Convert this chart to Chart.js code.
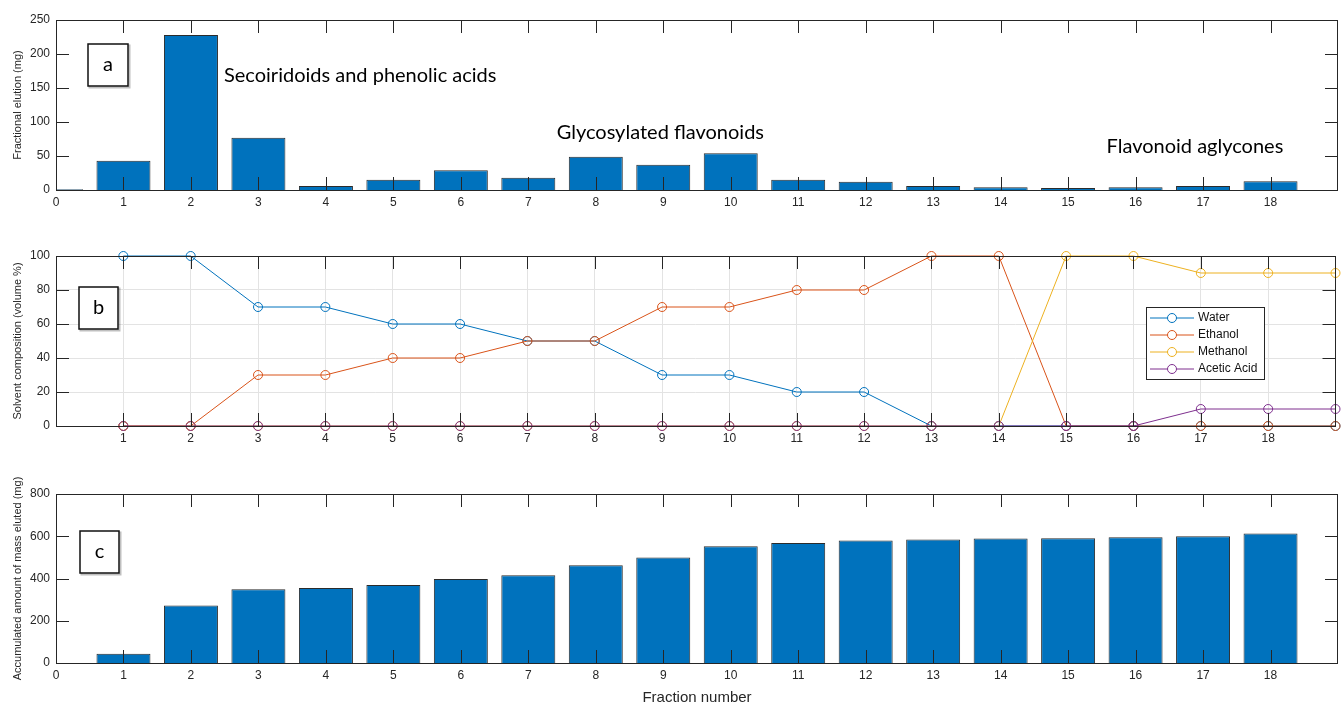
<!DOCTYPE html>
<html>
<head>
<meta charset="utf-8">
<script src="https://cdn.jsdelivr.net/npm/chart.js@4.4.1/dist/chart.umd.min.js"></script>
<style>
  html, body { margin: 0; padding: 0; background: #ffffff; }
  #wrap { position: relative; width: 1341px; height: 705px; overflow: hidden; background: #ffffff; }
  .pane { position: absolute; left: 0; width: 1341px; }
</style>
</head>
<body>
<div id="wrap">
  <div class="pane" style="top:0px;height:230px"><canvas id="chartA"></canvas></div>
  <div class="pane" style="top:230px;height:232px"><canvas id="chartB"></canvas></div>
  <div class="pane" style="top:462px;height:243px"><canvas id="chartC"></canvas></div>
</div>
<script>
// ---- Data ----
// (a) mass eluted in each fraction (mg)
const fractionsA = [0, 1, 2, 3, 4, 5, 6, 7, 8, 9, 10, 11, 12, 13, 14, 15, 16, 17, 18];
const fractionalElution = [1, 43, 228, 77, 6, 15, 29, 18, 49, 37, 54, 15, 12, 6, 4, 3, 4, 6, 13];

// (b) eluent composition per fraction (volume %)
const fractionsB = [1, 2, 3, 4, 5, 6, 7, 8, 9, 10, 11, 12, 13, 14, 15, 16, 17, 18, 19];
const water      = [100, 100, 70, 70, 60, 60, 50, 50, 30, 30, 20, 20, 0, 0, 0, 0, 0, 0, 0];
const ethanol    = [0, 0, 30, 30, 40, 40, 50, 50, 70, 70, 80, 80, 100, 100, 0, 0, 0, 0, 0];
const methanol   = [0, 0, 0, 0, 0, 0, 0, 0, 0, 0, 0, 0, 0, 0, 100, 100, 90, 90, 90];
const aceticAcid = [0, 0, 0, 0, 0, 0, 0, 0, 0, 0, 0, 0, 0, 0, 0, 0, 10, 10, 10];
const solventNames = ['Water', 'Ethanol', 'Methanol', 'Acetic Acid'];

// (c) accumulated mass eluted (mg)
const fractionsC = [1, 2, 3, 4, 5, 6, 7, 8, 9, 10, 11, 12, 13, 14, 15, 16, 17, 18];
const accumulatedMass = [44, 272, 349, 355, 369, 398, 415, 463, 500, 553, 568, 580, 585, 589, 591, 595, 600, 613];

// Tick labels
const xTicksA = [0, 1, 2, 3, 4, 5, 6, 7, 8, 9, 10, 11, 12, 13, 14, 15, 16, 17, 18];
const xTicksB = [1, 2, 3, 4, 5, 6, 7, 8, 9, 10, 11, 12, 13, 14, 15, 16, 17, 18];
const xTicksC = [0, 1, 2, 3, 4, 5, 6, 7, 8, 9, 10, 11, 12, 13, 14, 15, 16, 17, 18];
const yTicksA = [0, 50, 100, 150, 200, 250];
const yTicksB = [0, 20, 40, 60, 80, 100];
const yTicksC = [0, 200, 400, 600, 800];

// ---- Styling ----
const AXIS_COLOR = '#262626';
const BAR_COLOR = '#0072BD';
const SERIES_COLORS = ['#0072BD', '#D95319', '#EDB120', '#7E2F8E'];
const TICK_FONT = { family: 'Liberation Sans, Arial, sans-serif', size: 12 };
const YTITLE_FONT = { family: 'Liberation Sans, Arial, sans-serif', size: 11 };
const NOTE_FONT = '20px Lato, "Open Sans", sans-serif';

const zip = (xs, ys) => xs.map((x, i) => ({ x: x, y: ys[i] }));

// Box around the plot area with inward-pointing tick marks on all sides
const framePlugin = {
  id: 'frame',
  afterDatasetsDraw(chart) {
    const { ctx, chartArea: a } = chart;
    const x = chart.scales.x, y = chart.scales.y;
    const L = 13;
    ctx.save();
    ctx.strokeStyle = AXIS_COLOR;
    ctx.lineWidth = 1;
    ctx.beginPath();
    x.ticks.forEach(t => {
      const px = Math.round(x.getPixelForValue(t.value)) + 0.5;
      if (px <= a.left + 1 || px >= a.right - 1) return;
      ctx.moveTo(px, a.bottom); ctx.lineTo(px, a.bottom - L);
      ctx.moveTo(px, a.top); ctx.lineTo(px, a.top + L);
    });
    y.ticks.forEach(t => {
      const py = Math.round(y.getPixelForValue(t.value)) + 0.5;
      if (py <= a.top + 1 || py >= a.bottom - 1) return;
      ctx.moveTo(a.left, py); ctx.lineTo(a.left + L, py);
      ctx.moveTo(a.right, py); ctx.lineTo(a.right - L, py);
    });
    ctx.stroke();
    ctx.strokeRect(Math.round(a.left) + 0.5, Math.round(a.top) + 0.5,
                   Math.round(a.right - a.left) - 1, Math.round(a.bottom - a.top));
    ctx.restore();
  }
};

// Panel tag ("a", "b", "c") and free text notes placed at data coordinates
const notesPlugin = {
  id: 'notes',
  afterDraw(chart, args, opts) {
    const { ctx } = chart;
    const x = chart.scales.x, y = chart.scales.y;
    ctx.save();
    if (opts.tag) {
      const t = opts.tag;
      ctx.strokeStyle = 'rgba(0,0,0,0.25)';
      ctx.lineWidth = 2;
      ctx.strokeRect(t.left + 1.5, t.top + 1.5, t.w, t.h);
      ctx.strokeStyle = '#111';
      ctx.lineWidth = 1.5;
      ctx.fillStyle = '#fff';
      ctx.fillRect(t.left, t.top, t.w, t.h);
      ctx.strokeRect(t.left, t.top, t.w, t.h);
      ctx.fillStyle = '#000';
      ctx.font = NOTE_FONT;
      ctx.textAlign = 'center';
      ctx.textBaseline = 'middle';
      ctx.fillText(t.text, t.left + t.w / 2, t.top + t.h / 2);
    }
    (opts.notes || []).forEach(n => {
      ctx.fillStyle = '#000';
      ctx.font = NOTE_FONT;
      ctx.textAlign = 'left';
      ctx.textBaseline = 'middle';
      ctx.fillText(n.text, x.getPixelForValue(n.x), y.getPixelForValue(n.y));
    });
    ctx.restore();
  }
};

// Legend box drawn inside the plot area
const boxLegendPlugin = {
  id: 'boxLegend',
  afterDraw(chart, args, opts) {
    if (!opts.display) return;
    const { ctx } = chart;
    const ds = chart.data.datasets;
    ctx.save();
    ctx.fillStyle = '#fff';
    ctx.fillRect(opts.left, opts.top, opts.w, opts.h);
    ctx.strokeStyle = '#262626';
    ctx.lineWidth = 1;
    ctx.strokeRect(opts.left + 0.5, opts.top + 0.5, opts.w, opts.h);
    ctx.font = '12px Liberation Sans, Arial, sans-serif';
    ctx.textBaseline = 'middle';
    ctx.textAlign = 'left';
    ds.forEach((d, i) => {
      const cy = opts.top + opts.firstRow + i * opts.rowGap;
      ctx.strokeStyle = d.borderColor;
      ctx.lineWidth = 1;
      ctx.beginPath();
      ctx.moveTo(opts.left + 4, cy); ctx.lineTo(opts.left + 48, cy);
      ctx.stroke();
      ctx.beginPath();
      ctx.fillStyle = '#fff';
      ctx.arc(opts.left + 26, cy, 4.5, 0, Math.PI * 2);
      ctx.fill();
      ctx.stroke();
      ctx.fillStyle = '#111';
      ctx.fillText(d.label, opts.left + 52, cy);
    });
    ctx.restore();
  }
};

function fixedX(height) { return s => { s.height = height; }; }
function fixedY(width) { return s => { s.width = width; }; }
function setTicks(values) { return s => { s.ticks = values.map(v => ({ value: v })); }; }

function xScale(ticks, height, showGrid, title) {
  return {
    type: 'linear', min: 0, max: 19, offset: false,
    afterBuildTicks: setTicks(ticks),
    afterFit: fixedX(height),
    grid: { display: showGrid, offset: false, drawTicks: false, color: '#e3e3e3', lineWidth: 1 },
    border: { display: false },
    ticks: { color: AXIS_COLOR, font: TICK_FONT, padding: 5, maxRotation: 0, autoSkip: false,
              callback: v => String(v) },
    title: title ? { display: true, text: title, color: AXIS_COLOR,
                     font: { family: 'Liberation Sans, Arial, sans-serif', size: 15, lineHeight: 1.0 },
                     padding: { top: 0, bottom: 0 } } : { display: false }
  };
}

function yScale(ticks, max, showGrid, title) {
  return {
    type: 'linear', min: 0, max: max,
    afterBuildTicks: setTicks(ticks),
    afterFit: fixedY(56),
    grid: { display: showGrid, drawTicks: false, color: '#e3e3e3', lineWidth: 1 },
    border: { display: false },
    ticks: { color: AXIS_COLOR, font: TICK_FONT, padding: 6, callback: v => String(v) },
    title: { display: true, text: title, color: AXIS_COLOR, font: YTITLE_FONT,
             padding: { top: 11, bottom: 0 } }
  };
}

const common = {
  responsive: true,
  maintainAspectRatio: false,
  animation: false,
  events: [],
  plugins: { legend: { display: false }, tooltip: { enabled: false } }
};

// (a) fractional elution
new Chart(document.getElementById('chartA'), {
  type: 'bar',
  data: {
    datasets: [{
      data: zip(fractionsA, fractionalElution),
      backgroundColor: BAR_COLOR,
      borderColor: '#2b2b2b',
      borderWidth: 1,
      barPercentage: 0.8,
      categoryPercentage: 1.0,
      clip: 0
    }]
  },
  options: Object.assign({}, common, {
    layout: { padding: { top: 20, right: 3, left: 0, bottom: 0 } },
    scales: {
      x: xScale(xTicksA, 40, false, null),
      y: yScale(yTicksA, 250, false, 'Fractional elution (mg)')
    },
    plugins: Object.assign({}, common.plugins, {
      notes: {
        tag: { text: 'a', left: 88, top: 44, w: 40, h: 42 },
        notes: [
          { text: 'Secoiridoids and phenolic acids', x: 2.49, y: 169 },
          { text: 'Glycosylated flavonoids', x: 7.42, y: 85 },
          { text: 'Flavonoid aglycones', x: 15.57, y: 64 }
        ]
      }
    })
  }),
  plugins: [framePlugin, notesPlugin]
});

// (b) solvent composition; later solvents are drawn over earlier ones
new Chart(document.getElementById('chartB'), {
  type: 'line',
  data: {
    datasets: [water, ethanol, methanol, aceticAcid].map((vals, i) => ({
      label: solventNames[i],
      data: zip(fractionsB, vals),
      order: 3 - i,
      borderColor: SERIES_COLORS[i],
      backgroundColor: 'transparent',
      borderWidth: 1,
      tension: 0,
      fill: false,
      pointStyle: 'circle',
      pointRadius: 4.5,
      pointBorderWidth: 1,
      pointBorderColor: SERIES_COLORS[i],
      pointBackgroundColor: 'rgba(0,0,0,0)',
      clip: false
    }))
  },
  options: Object.assign({}, common, {
    layout: { padding: { top: 26, right: 3, left: 0, bottom: 0 } },
    scales: {
      x: xScale(xTicksB, 36, true, null),
      y: yScale(yTicksB, 100, true, 'Solvent composition (volume %)')
    },
    plugins: Object.assign({}, common.plugins, {
      notes: { tag: { text: 'b', left: 79, top: 57, w: 39, h: 42 }, notes: [] },
      boxLegend: { display: true, left: 1146, top: 77, w: 118, h: 72, firstRow: 11, rowGap: 17 }
    })
  }),
  plugins: [framePlugin, notesPlugin, boxLegendPlugin]
});

// (c) accumulated mass
new Chart(document.getElementById('chartC'), {
  type: 'bar',
  data: {
    datasets: [{
      data: zip(fractionsC, accumulatedMass),
      backgroundColor: BAR_COLOR,
      borderColor: '#2b2b2b',
      borderWidth: 1,
      barPercentage: 0.8,
      categoryPercentage: 1.0,
      clip: 0
    }]
  },
  options: Object.assign({}, common, {
    layout: { padding: { top: 32, right: 3, left: 0, bottom: 0 } },
    scales: {
      x: xScale(xTicksC, 42, false, 'Fraction number'),
      y: yScale(yTicksC, 800, false, 'Accumulated amount of mass eluted (mg)')
    },
    plugins: Object.assign({}, common.plugins, {
      notes: { tag: { text: 'c', left: 80, top: 69, w: 39, h: 42 }, notes: [] }
    })
  }),
  plugins: [framePlugin, notesPlugin]
});
</script>
</body>
</html>
